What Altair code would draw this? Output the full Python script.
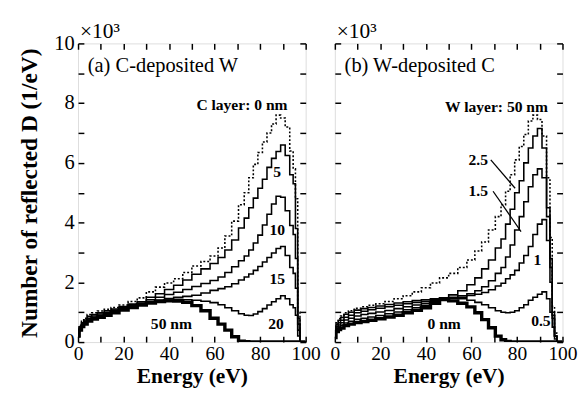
import altair as alt
import pandas as pd

# ---------------- data ----------------
E = [0, 1, 2, 3, 5, 7, 10, 13, 16, 20, 24, 28, 32, 36, 40, 44, 48, 52, 56, 60,
     63, 66, 69, 72, 74, 76, 78, 80, 82, 84, 86, 88, 90, 92, 94, 95, 96, 97, 98, 100]

# (a) C-deposited W, values in units of 10^3 /eV
a_0 = [0.25, 0.55, 0.7, 0.8, 0.92, 0.98, 1.04, 1.1, 1.16, 1.24, 1.36, 1.48, 1.68, 1.84, 1.98,
       2.12, 2.33, 2.55, 2.7, 2.88, 3.15, 3.55, 4.05, 4.6, 5.0, 5.5, 5.95, 6.35, 6.7, 7.0, 7.3, 7.6,
       7.5, 7.2, 6.4, 5.8, 4.8, 1.0, 0, 0]
a_5 = [0.22, 0.5, 0.65, 0.74, 0.86, 0.92, 0.98, 1.05, 1.11, 1.19, 1.27, 1.35, 1.5, 1.62, 1.76,
       1.9, 2.08, 2.27, 2.45, 2.63, 2.83, 3.08, 3.42, 3.82, 4.15, 4.5, 4.82, 5.15, 5.45, 5.85, 6.15, 6.38,
       6.6, 6.25, 5.6, 5.3, 3.8, 0.8, 0, 0]
a_10 = [0.2, 0.46, 0.6, 0.7, 0.8, 0.87, 0.94, 1.0, 1.07, 1.15, 1.23, 1.31, 1.42, 1.5, 1.59,
        1.67, 1.76, 1.86, 1.96, 2.06, 2.18, 2.33, 2.52, 2.72, 2.88, 3.08, 3.32, 3.58, 3.92, 4.28, 4.62, 4.88,
        4.85, 4.4, 3.9, 3.6, 2.8, 0.6, 0, 0]
a_15 = [0.2, 0.44, 0.57, 0.66, 0.77, 0.83, 0.9, 0.97, 1.04, 1.12, 1.2, 1.28, 1.36, 1.41, 1.46,
        1.5, 1.53, 1.57, 1.64, 1.73, 1.79, 1.85, 1.95, 2.08, 2.18, 2.28, 2.4, 2.53, 2.68, 2.83, 2.98, 3.13,
        3.2, 2.9, 2.5, 2.3, 1.8, 0.4, 0, 0]
a_20 = [0.18, 0.42, 0.55, 0.63, 0.74, 0.8, 0.87, 0.94, 1.01, 1.1, 1.18, 1.26, 1.33, 1.38, 1.41,
        1.43, 1.42, 1.4, 1.37, 1.32, 1.25, 1.15, 1.05, 0.95, 0.9, 0.89, 0.94, 1.02, 1.12, 1.24, 1.35, 1.45,
        1.55, 1.45, 1.25, 1.15, 0.9, 0.2, 0, 0]
a_50 = [0.2, 0.4, 0.52, 0.6, 0.7, 0.77, 0.83, 0.9, 0.98, 1.07, 1.16, 1.24, 1.31, 1.36, 1.38,
        1.37, 1.33, 1.22, 1.05, 0.8, 0.6, 0.4, 0.18, 0.03, 0.01, 0, 0, 0, 0, 0, 0, 0,
        0, 0, 0, 0, 0, 0, 0, 0]

# (b) W-deposited C
b_50 = [0.4, 0.65, 0.78, 0.87, 0.98, 1.05, 1.13, 1.18, 1.23, 1.28, 1.36, 1.45, 1.55, 1.68, 1.82,
        1.98, 2.15, 2.3, 2.5, 2.75, 3.05, 3.35, 3.75, 4.2, 4.6, 5.05, 5.6, 6.1, 6.55, 6.95, 7.4, 7.6,
        7.45, 6.9, 5.5, 3.5, 1.2, 0.3, 0, 0]
b_25 = [0.35, 0.6, 0.73, 0.82, 0.93, 1.0, 1.07, 1.12, 1.16, 1.21, 1.26, 1.31, 1.35, 1.39, 1.42,
        1.45, 1.48, 1.58, 1.72, 1.92, 2.15, 2.45, 2.75, 3.15, 3.45, 3.95, 4.45, 5.0, 5.4, 6.0, 6.5, 6.9,
        7.15, 6.5, 4.5, 2.8, 1.0, 0.2, 0, 0]
b_15 = [0.3, 0.53, 0.65, 0.73, 0.83, 0.9, 0.98, 1.03, 1.08, 1.13, 1.18, 1.23, 1.28, 1.33, 1.37,
        1.43, 1.47, 1.5, 1.55, 1.62, 1.72, 1.85, 2.05, 2.3, 2.5, 2.85, 3.25, 3.75, 4.2, 4.7, 5.2, 5.6,
        5.8, 5.5, 4.2, 2.5, 0.9, 0.2, 0, 0]
b_1 = [0.25, 0.47, 0.57, 0.65, 0.74, 0.8, 0.87, 0.92, 0.96, 1.01, 1.06, 1.12, 1.18, 1.24, 1.3,
       1.4, 1.46, 1.47, 1.5, 1.56, 1.6, 1.66, 1.75, 1.88, 1.97, 2.12, 2.25, 2.4, 2.65, 2.9, 3.2, 3.6,
       3.95, 4.1, 3.4, 2.0, 0.8, 0.2, 0, 0]
b_05 = [0.2, 0.4, 0.5, 0.56, 0.64, 0.7, 0.76, 0.8, 0.84, 0.89, 0.95, 1.01, 1.08, 1.15, 1.23,
        1.35, 1.45, 1.46, 1.45, 1.4, 1.33, 1.25, 1.15, 1.05, 1.0, 0.98, 1.0, 1.05, 1.15, 1.25, 1.4, 1.5,
        1.6, 1.68, 1.45, 1.0, 0.5, 0.1, 0, 0]
b_0 = [0.15, 0.35, 0.42, 0.47, 0.55, 0.6, 0.65, 0.69, 0.73, 0.78, 0.84, 0.9, 0.98, 1.06, 1.15,
       1.3, 1.42, 1.38, 1.3, 1.18, 0.98, 0.75, 0.48, 0.2, 0.08, 0.02, 0, 0, 0, 0, 0, 0,
       0, 0, 0, 0, 0, 0, 0, 0]

# annotations
ann_a_text = ["C layer: 0 nm", "5", "10", "15", "20", "50 nm"]
ann_a_x = [72, 87.5, 87.5, 87.5, 87, 41]
ann_a_y = [7.95, 5.7, 3.75, 2.1, 0.6, 0.6]
ann_b_text = ["W layer:  50 nm", "2.5", "1.5", "1", "0.5", "0 nm"]
ann_b_x = [71, 63, 63, 89, 90.5, 48]
ann_b_y = [7.85, 6.1, 5.05, 2.75, 0.7, 0.6]
lead_x = [68.5, 69.5]
lead_y = [6.1, 5.05]
lead_x2 = [79.2, 81.8]
lead_y2 = [5.15, 3.7]

FONT = "Liberation Serif"
W, H = 234, 307


def long(series):
    rows = []
    for name, vals, style in series:
        for e, v in zip(E, vals):
            rows.append({"E": e, "N": v, "s": name, "style": style})
    return pd.DataFrame(rows)


xs = alt.Scale(domain=[0, 100], nice=False, zero=False)
ys = alt.Scale(domain=[0, 10], nice=False)
XT = list(range(0, 101, 10))
YT = list(range(0, 11))


def panel(df, ann, panel_label, leaders=None, show_y=True):
    base = alt.Chart(df)
    xb = alt.Axis(orient="bottom", values=XT, labelExpr="datum.value % 20 == 0 ? datum.label : ''",
                  offset=-6, tickSize=6, domain=False, grid=False, title="Energy (eV)",
                  labelFontSize=20, labelFont=FONT, labelPadding=2, labelColor="black",
                  titleFont=FONT, titleFontSize=22, titleFontWeight="bold", titlePadding=3,
                  titleColor="black", tickColor="black", tickWidth=1.5, labelFlush=False)
    if show_y:
        yl = alt.Axis(orient="left", values=YT, labelExpr="datum.value % 2 == 0 ? datum.label : ''",
                      offset=-6, tickSize=6, domain=False, grid=False,
                      title="Number of reflected D (1/eV)", labelFontSize=21, labelFont=FONT,
                      labelPadding=4, labelColor="black", titleFont=FONT, titleFontSize=24,
                      titleFontWeight="bold", titlePadding=13, titleColor="black",
                      tickColor="black", tickWidth=1.5, labelFlush=False)
    else:
        yl = alt.Axis(orient="left", values=YT, labels=False, offset=-6, tickSize=6,
                      domain=False, grid=False, title=None, tickColor="black", tickWidth=1.5)
    xt = alt.Axis(orient="top", values=XT, labels=False, offset=-6, tickSize=6, domain=False,
                  grid=False, title=None, tickColor="black", tickWidth=1.5)
    yr = alt.Axis(orient="right", values=YT, labels=False, offset=-6, tickSize=6, domain=False,
                  grid=False, title=None, tickColor="black", tickWidth=1.5)

    dotted = base.transform_filter("datum.style == 'dot'").mark_line(
        interpolate="step", color="black", strokeWidth=1.6, strokeDash=[2, 2], clip=True
    ).encode(x=alt.X("E:Q", scale=xs, axis=xb), y=alt.Y("N:Q", scale=ys, axis=yl), detail="s:N")
    thin = base.transform_filter("datum.style == 'thin'").mark_line(
        interpolate="step", color="black", strokeWidth=1.6, clip=True
    ).encode(x=alt.X("E:Q", scale=xs, axis=xt), y=alt.Y("N:Q", scale=ys, axis=yr), detail="s:N")
    thick = base.transform_filter("datum.style == 'thick'").mark_line(
        interpolate="step", color="black", strokeWidth=3.5, clip=True
    ).encode(x=alt.X("E:Q", scale=xs, axis=None), y=alt.Y("N:Q", scale=ys, axis=None), detail="s:N")

    adf = pd.DataFrame(ann)
    texts = alt.Chart(adf).mark_text(font=FONT, fontSize=16, fontWeight="bold", color="black").encode(
        x=alt.X("x:Q", scale=xs, axis=None), y=alt.Y("y:Q", scale=ys, axis=None), text="t:N")
    lab = alt.Chart(pd.DataFrame({"t": [panel_label]})).mark_text(
        font=FONT, fontSize=21, align="left", color="black").encode(
        x=alt.value(10), y=alt.value(23), text="t:N")
    mult = alt.Chart(pd.DataFrame({"t": ["×10³"]})).mark_text(
        font=FONT, fontSize=22, align="left", baseline="alphabetic", color="black").encode(
        x=alt.value(2), y=alt.value(-6), text="t:N")
    layers = [dotted, thin, thick, texts, lab, mult]
    if leaders is not None:
        layers.append(alt.Chart(pd.DataFrame(leaders)).mark_rule(color="black", strokeWidth=1.3).encode(
            x=alt.X("x:Q", scale=xs, axis=None), y=alt.Y("y:Q", scale=ys, axis=None),
            x2="x2:Q", y2="y2:Q"))
    return alt.layer(*layers).resolve_axis(x="independent", y="independent").properties(
        width=W, height=H)


dfa = long([("0", a_0, "dot"), ("5", a_5, "thin"), ("10", a_10, "thin"), ("15", a_15, "thin"),
            ("20", a_20, "thin"), ("50", a_50, "thick")])
dfb = long([("50", b_50, "dot"), ("2.5", b_25, "thin"), ("1.5", b_15, "thin"), ("1", b_1, "thin"),
            ("0.5", b_05, "thin"), ("0", b_0, "thick")])

pa = panel(dfa, {"t": ann_a_text, "x": ann_a_x, "y": ann_a_y}, "(a) C-deposited W")
pb = panel(dfb, {"t": ann_b_text, "x": ann_b_x, "y": ann_b_y}, "(b) W-deposited C",
           leaders={"x": lead_x, "y": lead_y, "x2": lead_x2, "y2": lead_y2}, show_y=False)

chart = alt.hconcat(pa, pb, spacing=8).properties(
    padding={"left": 9, "top": 6, "right": 2, "bottom": 2}
).configure_view(stroke="black", strokeWidth=1.8).configure(background="white")

chart.save("out.html", embed_options={"renderer": "svg", "actions": False})
